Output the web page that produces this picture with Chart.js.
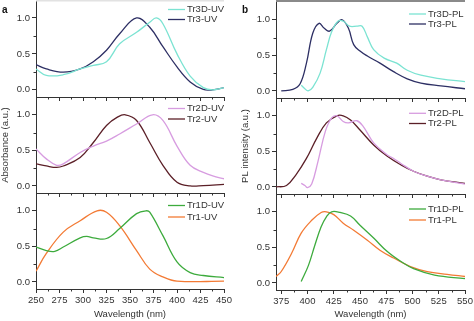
<!DOCTYPE html>
<html>
<head>
<meta charset="utf-8">
<title>UV and PL spectra</title>
<script src="https://cdn.jsdelivr.net/npm/chart.js@4.4.0/dist/chart.umd.min.js"></script>
<style>
  html, body { margin: 0; padding: 0; background: #fff; }
  #wrap { position: relative; width: 474px; height: 321px; overflow: hidden; }
  #wrap canvas { position: absolute; }
  .tag { position: absolute; font: bold 10px "Liberation Sans", Arial, sans-serif; color: #111; }
</style>
</head>
<body>
<div id="wrap">
  <canvas id="uv3"></canvas>
  <canvas id="uv2"></canvas>
  <canvas id="uv1"></canvas>
  <canvas id="pl3"></canvas>
  <canvas id="pl2"></canvas>
  <canvas id="pl1"></canvas>
  <div class="tag" style="left:2px;top:4px">a</div>
  <div class="tag" style="left:242px;top:4px">b</div>
</div>
<script>
// ---- tick values ----
const uvTicks = [250, 275, 300, 325, 350, 375, 400, 425, 450];
const plTicks = [375, 400, 425, 450, 475, 500, 525, 550];
const yTicks = [0, 0.5, 1.0];

// ---- absorbance (UV) ----
const tr3dUvX = [250, 261, 279, 297, 311, 325, 339, 357, 371, 378, 385, 400, 414, 428, 438, 450];
const tr3dUvY = [0.29, 0.20, 0.21, 0.29, 0.34, 0.39, 0.64, 0.80, 0.94, 1.0, 0.92, 0.50, 0.19, 0.03, 0.0, 0.03];
const tr3UvX = [250, 261, 279, 297, 311, 325, 339, 357, 371, 385, 400, 414, 428, 438, 450];
const tr3UvY = [0.35, 0.29, 0.245, 0.29, 0.39, 0.55, 0.78, 1.0, 0.87, 0.60, 0.32, 0.11, 0.005, 0.0, 0.03];

const tr2dUvX = [250, 261, 272, 279, 297, 311, 325, 339, 357, 374, 385, 400, 414, 428, 438, 450];
const tr2dUvY = [0.52, 0.38, 0.29, 0.31, 0.47, 0.56, 0.63, 0.73, 0.87, 1.0, 0.92, 0.56, 0.29, 0.19, 0.14, 0.10];
const tr2UvX = [250, 261, 272, 279, 297, 311, 325, 337, 345, 357, 371, 385, 400, 414, 428, 450];
const tr2UvY = [0.31, 0.28, 0.26, 0.28, 0.40, 0.61, 0.85, 0.97, 1.0, 0.92, 0.61, 0.29, 0.05, 0.0, 0.005, 0.02];

const tr1dUvX = [250, 261, 270, 279, 297, 304, 311, 325, 339, 357, 367, 371, 385, 400, 414, 428, 450];
const tr1dUvY = [0.49, 0.44, 0.43, 0.49, 0.62, 0.64, 0.62, 0.61, 0.75, 0.96, 1.0, 0.98, 0.65, 0.28, 0.13, 0.09, 0.06];
const tr1UvX = [250, 261, 279, 297, 315, 325, 339, 357, 371, 385, 400, 450];
const tr1UvY = [0.15, 0.40, 0.70, 0.86, 1.0, 0.98, 0.79, 0.44, 0.18, 0.07, 0.01, 0.01];

// ---- photoluminescence (PL) ----
const tr3dPlX = [394, 397.5, 400.6, 405, 412, 418, 423, 429, 434, 440, 447, 452, 457, 463, 473, 485, 495, 508, 527, 550];
const tr3dPlY = [0.08, 0.03, 0.0, 0.05, 0.25, 0.58, 0.83, 0.98, 0.98, 0.91, 0.91, 0.91, 0.76, 0.58, 0.46, 0.39, 0.29, 0.22, 0.17, 0.13];
const tr3PlX = [375, 386, 393, 399, 405, 411, 416, 421, 428, 433, 439, 444, 450, 457, 469, 482, 495, 508, 527, 550];
const tr3PlY = [0.0, 0.02, 0.10, 0.39, 0.81, 0.95, 0.88, 0.84, 0.95, 1.0, 0.88, 0.65, 0.56, 0.49, 0.39, 0.27, 0.17, 0.11, 0.07, 0.03];

const tr2dPlX = [394, 397.5, 400, 404, 410, 417, 423, 428, 434, 439, 447, 453, 463, 476, 482, 489, 501, 514, 527, 550];
const tr2dPlY = [0.05, 0.02, -0.01, 0.04, 0.36, 0.78, 0.97, 1.0, 0.92, 0.90, 0.93, 0.85, 0.62, 0.45, 0.40, 0.33, 0.22, 0.15, 0.10, 0.04];
const tr2PlX = [370, 380, 389, 399, 409, 418, 428, 434, 441, 450, 463, 476, 489, 501, 514, 527, 550];
const tr2PlY = [0.0, 0.02, 0.17, 0.40, 0.69, 0.90, 1.0, 1.0, 0.94, 0.80, 0.59, 0.43, 0.31, 0.22, 0.15, 0.10, 0.05];

const tr1dPlX = [394, 401, 407, 413, 418, 423, 431, 441, 450, 463, 476, 489, 501, 521, 550];
const tr1dPlY = [0.02, 0.25, 0.53, 0.79, 0.93, 1.0, 0.99, 0.94, 0.81, 0.63, 0.44, 0.30, 0.20, 0.11, 0.06];
const tr1PlX = [370, 375, 385, 394, 404, 413, 418, 425, 434, 444, 457, 469, 482, 498, 514, 533, 550];
const tr1PlY = [0.09, 0.16, 0.42, 0.70, 0.88, 0.99, 1.0, 0.96, 0.84, 0.74, 0.60, 0.46, 0.35, 0.23, 0.16, 0.12, 0.09];

const FONT = '"Liberation Sans", Arial, sans-serif';
const INK = '#333';
const C = {
    cyan: '#7be3d2', navy: '#2d2f64',
    orchid: '#d79ce0', maroon: '#5b1f27',
    green: '#3dab3d', orange: '#f37a34'
};

const midpoints = arr => arr.slice(1).map((v, i) => (v + arr[i]) / 2);

// small in-between ticks on both axes
const minorTicks = {
    id: 'minorTicks',
    afterDraw(chart) {
        const { ctx, chartArea: a, scales: { x, y } } = chart;
        const xs = midpoints(chart.options.scales.x.majors);
        const ys = midpoints(yTicks);
        ctx.save();
        ctx.strokeStyle = INK;
        ctx.lineWidth = 1;
        ctx.beginPath();
        xs.forEach(v => {
            const px = Math.round(x.getPixelForValue(v)) + 0.5;
            ctx.moveTo(px, a.bottom);
            ctx.lineTo(px, a.bottom + 2.5);
        });
        ys.forEach(v => {
            const py = Math.round(y.getPixelForValue(v)) + 0.5;
            ctx.moveTo(a.left, py);
            ctx.lineTo(a.left - 2.5, py);
        });
        ctx.stroke();
        ctx.restore();
    }
};

// legend drawn inside the plot, top right
const innerLegend = {
    id: 'innerLegend',
    afterDatasetsDraw(chart, args, opts) {
        const { ctx, chartArea: a } = chart;
        ctx.save();
        ctx.font = '9.5px ' + FONT;
        ctx.textBaseline = 'middle';
        chart.data.datasets.forEach((ds, i) => {
            const y = a.top + opts.top + i * opts.gap;
            const x0 = a.right - 56;
            ctx.strokeStyle = ds.borderColor;
            ctx.lineWidth = 1.3;
            ctx.beginPath();
            ctx.moveTo(x0, y);
            ctx.lineTo(x0 + 17, y);
            ctx.stroke();
            ctx.fillStyle = INK;
            ctx.fillText(ds.label, x0 + 19, y);
        });
        ctx.restore();
    }
};

// thin strip along the top edge of the upper panels
const topStrip = {
    id: 'topStrip',
    afterDraw(chart, args, opts) {
        if (!opts.color) return;
        const { ctx, chartArea: a } = chart;
        ctx.save();
        ctx.fillStyle = opts.color;
        ctx.fillRect(a.left, 0, a.width, opts.h);
        ctx.restore();
    }
};

function series(label, xs, ys, color) {
    return {
        label,
        data: xs.map((x, i) => ({ x, y: ys[i] })),
        borderColor: color,
        borderWidth: 1.3,
        pointRadius: 0,
        fill: false,
        tension: 0.4
    };
}

function makePanel(id, box, cfg) {
    const canvas = document.getElementById(id);
    canvas.width = box.w;
    canvas.height = box.h;
    canvas.style.left = box.x + 'px';
    canvas.style.top = box.y + 'px';

    return new Chart(canvas, {
        type: 'line',
        data: { datasets: cfg.datasets },
        options: {
            responsive: false,
            animation: false,
            devicePixelRatio: 1,
            layout: { padding: { top: box.padTop, right: box.padRight, left: 0, bottom: 0 } },
            plugins: {
                legend: { display: false },
                tooltip: { enabled: false },
                innerLegend: cfg.legend,
                topStrip: cfg.strip || {}
            },
            scales: {
                x: {
                    type: 'linear',
                    min: cfg.xMin,
                    max: cfg.xMax,
                    majors: cfg.xTicks,
                    afterBuildTicks: s => { s.ticks = cfg.xTicks.map(v => ({ value: v })); },
                    afterFit: s => { s.height = box.xh; s.paddingLeft = 0; s.paddingRight = 0; },
                    ticks: {
                        display: !!cfg.xTitle,
                        autoSkip: false,
                        maxRotation: 0,
                        padding: 2,
                        color: INK,
                        font: { family: FONT, size: 9.5 },
                        callback: v => String(v)
                    },
                    grid: { drawOnChartArea: false, tickLength: 4, color: INK, tickWidth: 1 },
                    border: { display: true, color: INK, width: 1 },
                    title: {
                        display: !!cfg.xTitle,
                        text: cfg.xTitle || '',
                        color: INK,
                        font: { family: FONT, size: 9.5 },
                        padding: { top: 0, bottom: 1 }
                    }
                },
                y: {
                    min: -0.1,
                    max: 1.25,
                    afterBuildTicks: s => { s.ticks = yTicks.map(v => ({ value: v })); },
                    afterFit: s => { s.width = 36; s.paddingTop = 0; s.paddingBottom = 0; },
                    ticks: {
                        padding: 2,
                        color: INK,
                        font: { family: FONT, size: 9.5 },
                        callback: v => v.toFixed(1)
                    },
                    grid: { drawOnChartArea: false, tickLength: 4, color: INK, tickWidth: 1 },
                    border: { display: true, color: INK, width: 1 },
                    title: {
                        display: !!cfg.yTitle,
                        text: cfg.yTitle || '',
                        color: INK,
                        font: { family: FONT, size: 9.5 },
                        padding: { top: 0, bottom: 0 }
                    }
                }
            }
        },
        plugins: [minorTicks, innerLegend, topStrip]
    });
}

const uvRange = { xMin: 250, xMax: 450, xTicks: uvTicks };
const plRange = { xMin: 370, xMax: 550, xTicks: plTicks };

// column a: absorbance
makePanel('uv3', { x: 0, y: 0, w: 232, h: 102, xh: 5, padTop: 0, padRight: 8 }, {
    ...uvRange,
    datasets: [series('Tr3D-UV', tr3dUvX, tr3dUvY, C.cyan), series('Tr3-UV', tr3UvX, tr3UvY, C.navy)],
    legend: { top: 9.5, gap: 10 },
    strip: { color: '#e2e2e2', h: 1.5 }
});
makePanel('uv2', { x: 0, y: 97, w: 232, h: 101, xh: 5, padTop: 0, padRight: 8 }, {
    ...uvRange,
    datasets: [series('Tr2D-UV', tr2dUvX, tr2dUvY, C.orchid), series('Tr2-UV', tr2UvX, tr2UvY, C.maroon)],
    legend: { top: 11.5, gap: 10.5 },
    yTitle: 'Absorbance (a.u.)'
});
makePanel('uv1', { x: 0, y: 193, w: 232, h: 128, xh: 32, padTop: 0, padRight: 8 }, {
    ...uvRange,
    datasets: [series('Tr1D-UV', tr1dUvX, tr1dUvY, C.green), series('Tr1-UV', tr1UvX, tr1UvY, C.orange)],
    legend: { top: 12.5, gap: 11.5 },
    xTitle: 'Wavelength (nm)'
});

// column b: photoluminescence
makePanel('pl3', { x: 240, y: 0, w: 234, h: 103, xh: 5, padTop: 2, padRight: 9 }, {
    ...plRange,
    datasets: [series('Tr3D-PL', tr3dPlX, tr3dPlY, C.cyan), series('Tr3-PL', tr3PlX, tr3PlY, C.navy)],
    legend: { top: 12, gap: 10 },
    strip: { color: '#8a8a8a', h: 2 }
});
makePanel('pl2', { x: 240, y: 98, w: 234, h: 101, xh: 5, padTop: 0, padRight: 9 }, {
    ...plRange,
    datasets: [series('Tr2D-PL', tr2dPlX, tr2dPlY, C.orchid), series('Tr2-PL', tr2PlX, tr2PlY, C.maroon)],
    legend: { top: 15.3, gap: 10.2 },
    yTitle: 'PL intensity (a.u.)'
});
makePanel('pl1', { x: 240, y: 194, w: 234, h: 127, xh: 31, padTop: 0, padRight: 9 }, {
    ...plRange,
    datasets: [series('Tr1D-PL', tr1dPlX, tr1dPlY, C.green), series('Tr1-PL', tr1PlX, tr1PlY, C.orange)],
    legend: { top: 15, gap: 11 },
    xTitle: 'Wavelength (nm)'
});
</script>
</body>
</html>
